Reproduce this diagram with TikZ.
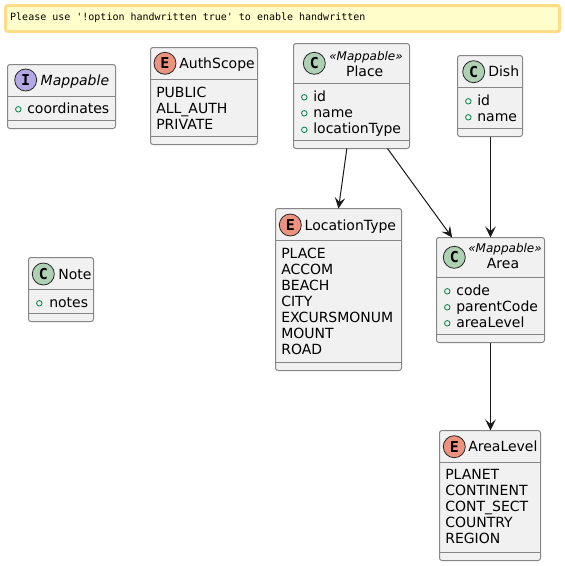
\documentclass[tikz,border=0pt]{standalone}
\usepackage{fontspec}
\setmainfont{DejaVu Sans}
\newfontfamily\monof{DejaVu Sans Mono}
\usetikzlibrary{arrows.meta,calc}
\definecolor{boxfill}{HTML}{F1F1F1}
\definecolor{boxline}{HTML}{868686}
\definecolor{noteline}{HTML}{FFDD88}
\definecolor{notefill}{HTML}{FFFFCC}
\definecolor{clsc}{HTML}{ADD1B2}
\definecolor{enmc}{HTML}{EB937F}
\definecolor{intc}{HTML}{B4A7E5}
\definecolor{pubc}{HTML}{038048}
\tikzset{
  umlbox/.style={draw=boxline,fill=boxfill,line width=1pt,rounded corners=2.5pt,inner sep=0pt,outer sep=0pt},
  divider/.style={draw=boxline,line width=1pt},
  badge/.style={circle,draw=black!85,line width=0.8pt,minimum size=22pt,inner sep=0pt,font=\monof\bfseries\fontsize{15}{15}\selectfont},
  label/.style={anchor=base west,inner sep=0pt,outer sep=0pt,text=black,font=\fontsize{14}{16}\selectfont},
  title/.style={label,font=\fontsize{14}{16}\selectfont},
  ititle/.style={label,font=\itshape\fontsize{14}{16}\selectfont},
  stereo/.style={label,font=\itshape\fontsize{12}{14}\selectfont},
  pubdot/.style={circle,draw=pubc,fill=boxfill,line width=0.8pt,minimum size=5.5pt,inner sep=0pt},
  conn/.style={draw=black!90,line width=1pt,-{Stealth[length=11pt,width=10.5pt,inset=4.5pt]}},
}
% name x0 y0 x1 y1 div1 div2
\newcommand{\umlcls}[7]{%
  \node[umlbox,minimum width={(#4-#2)*1pt},minimum height={(#5-#3)*1pt}] (#1) at ({(#2+#4)/2},{(#3+#5)/2}) {};
  \draw[divider] (#1.west |- 0,#6) -- (#1.east |- 0,#6);
  \draw[divider] (#1.west |- 0,#7) -- (#1.east |- 0,#7);
}
% name cx cy baseline textx text
\newcommand{\umlmem}[6]{%
  \node[pubdot] (#1d) at (#2,#3) {};
  \node[label] (#1) at (#5,#4) {#6};
}
\begin{document}
\begin{tikzpicture}[x=1pt,y=-1pt]
\useasboundingbox (0,0) rectangle (565,566);
\fill[white] (0,0) rectangle (565,566);

% banner
\node[draw=noteline,fill=notefill,line width=3pt,rounded corners=2.5pt,inner sep=0pt,minimum width=554pt,minimum height=26pt] (banner) at (282.5,18.5) {};
\node[anchor=base west,inner sep=0pt,font=\monof\fontsize{10}{12}\selectfont] (bannertext) at (10,20) {Please use '!option handwritten true' to enable handwritten};

% Mappable
\umlcls{mappable}{7.5}{64.5}{115.5}{128.5}{96.5}{120.5}
\node[badge,fill=intc] (mappableb) at (25.7,80) {I};
\node[ititle] (mappablet) at (40.7,85) {Mappable};
\umlmem{mappablea}{18.3}{109.3}{113.3}{27.3}{coordinates}

% AuthScope
\umlcls{authscope}{150.5}{47.5}{257.5}{144.5}{79.5}{136.5}
\node[badge,fill=enmc] (authscopeb) at (165,63.3) {E};
\node[title] (authscopet) at (179.3,68.3) {AuthScope};
\node[label] (authscopea) at (156.3,97) {PUBLIC};
\node[label] (authscopec) at (156.3,113) {ALL\_AUTH};
\node[label] (authscoped) at (156.3,129) {PRIVATE};

% Place
\umlcls{place}{293.5}{43.5}{409.5}{148.5}{83.5}{140.5}
\node[badge,fill=clsc] (placeb) at (314.3,63.3) {C};
\node[stereo] (places) at (329.3,60.3) {«Mappable»};
\node[label,anchor=base] (placet) at (364.7,76) {Place};
\umlmem{placea}{304.3}{97.3}{101.5}{313.3}{id}
\umlmem{placec}{304.3}{113.3}{117.5}{313.3}{name}
\umlmem{placed}{304.3}{129.8}{133.5}{313.3}{locationType}

% Dish
\umlcls{dish}{457.5}{55.5}{522.5}{136.5}{87.5}{128.5}
\node[badge,fill=clsc] (dishb) at (473.7,71.7) {C};
\node[title] (disht) at (488.3,76.7) {Dish};
\umlmem{disha}{468.3}{101.3}{105.5}{477.3}{id}
\umlmem{dishc}{468.3}{117.3}{121.5}{477.3}{name}

% LocationType
\umlcls{loctype}{275.5}{208.5}{401.5}{370.5}{240.5}{362.5}
\node[badge,fill=enmc] (loctypeb) at (290.3,225) {E};
\node[title] (loctypet) at (304.7,230) {LocationType};
\node[label] (lta) at (281.3,258.5) {PLACE};
\node[label] (ltc) at (281.3,274.5) {ACCOM};
\node[label] (ltd) at (281.3,290.5) {BEACH};
\node[label] (lte) at (281.3,306.5) {CITY};
\node[label] (ltf) at (281.3,322.5) {EXCURSMONUM};
\node[label] (ltg) at (281.3,338.5) {MOUNT};
\node[label] (lth) at (281.3,354.5) {ROAD};

% Area
\umlcls{area}{436.5}{237.5}{544.5}{342.5}{277.5}{334.5}
\node[badge,fill=clsc] (areab) at (454.3,257.3) {C};
\node[stereo] (areas) at (468.3,252.7) {«Mappable»};
\node[label,anchor=base] (areat) at (503,268.7) {Area};
\umlmem{areaa}{447.3}{291.3}{295.5}{456.3}{code}
\umlmem{areac}{447.3}{307.3}{311.5}{456.3}{parentCode}
\umlmem{aread}{447.3}{323.3}{327.5}{456.3}{areaLevel}

% AreaLevel
\umlcls{arealevel}{439.5}{430.5}{540.5}{560.5}{462.5}{552.5}
\node[badge,fill=enmc] (arealevelb) at (454.3,446.7) {E};
\node[title] (arealevelt) at (468.3,451.7) {AreaLevel};
\node[label] (ala) at (445.3,479.5) {PLANET};
\node[label] (alc) at (445.3,495.5) {CONTINENT};
\node[label] (ald) at (445.3,511.5) {CONT\_SECT};
\node[label] (ale) at (445.3,527.5) {COUNTRY};
\node[label] (alf) at (445.3,543.5) {REGION};

% Note
\umlcls{note}{28.5}{257.5}{93.5}{321.5}{289.5}{313.5}
\node[badge,fill=clsc] (noteb) at (43.3,274) {C};
\node[title] (notet) at (58.3,279) {Note};
\umlmem{notea}{39.3}{303.3}{307.3}{49.3}{notes}

% connectors
\draw[conn] ($(place.south west)!0.46!(place.south east)$) -- ($(loctype.north west)!0.50!(loctype.north east)$);
\draw[conn] ($(place.south west)!0.81!(place.south east)$) -- ($(area.north west)!0.145!(area.north east)$);
\draw[conn] (area.north |- dish.south) -- (area.north);
\draw[conn] (area.south) -- (area.south |- arealevel.north);
\end{tikzpicture}
\end{document}
